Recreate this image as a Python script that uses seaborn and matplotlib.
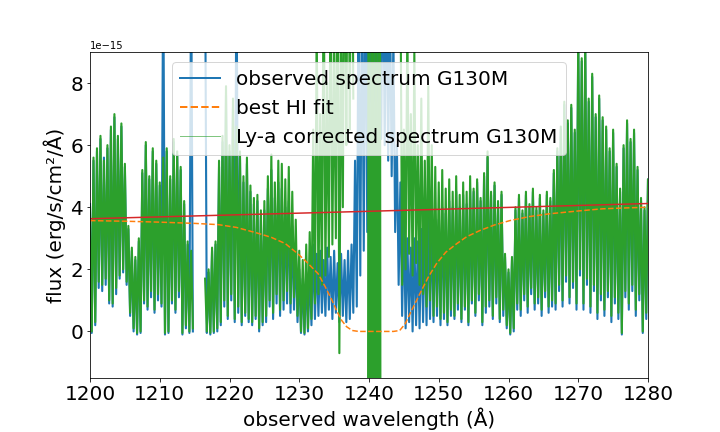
import numpy as np
import pandas as pd
import matplotlib
matplotlib.use("Agg")
import matplotlib.pyplot as plt
from matplotlib.lines import Line2D
import seaborn as sns

nan = np.nan
# wavelength grid of envelope samples (Angstrom), every 0.5 A from 1200 to 1280
grid_start, grid_step, n_grid = 1200.0, 0.5, 161

# Ly-a corrected spectrum G130M: upper / lower envelope (units of 1e-15)
green_hi = [
    4.0, 5.6, 5.9, 6.3, 5.5, 6.0, 6.6, 7.0, 6.3, 6.7,
    5.4, 3.4, 2.7, 2.4, 3.0, 5.2, 6.1, 5.0, 5.9, 5.5,
    4.8, 5.6, 5.9, 5.0, 6.2, 5.8, 5.3, 4.2, 2.9, 2.6,
    nan, nan, nan, 1.7, 2.0, 2.7, 2.9, 5.5, 6.3, 7.9,
    6.0, 7.5, 6.6, 5.8, 5.0, 5.6, 4.7, 4.3, 4.4, 3.9,
    4.2, 5.0, 5.7, 4.8, 5.5, 5.4, 4.9, 5.3, 4.5, 3.6,
    2.6, 2.3, 2.8, 3.2, 6.5, 10.0, 7.0, 12.0, 8.0, 12.0,
    9.0, 14.0, 10.0, 15.0, 16.0, 18.0, nan, nan, nan, nan,
    30.0, 30.0, 30.0, 30.0, nan, nan, nan, nan, nan, 12.0,
    6.5, 10.0, 7.0, 9.0, 6.0, 7.5, 5.5, 7.9, 6.0, 5.3,
    4.8, 5.2, 4.6, 4.9, 4.5, 5.0, 4.4, 4.8, 4.5, 5.0,
    4.6, 4.9, 4.3, 5.1, 5.8, 4.5, 4.8, 4.2, 4.5, 2.5,
    2.0, 2.4, 4.0, 4.4, 3.9, 4.5, 4.1, 4.6, 4.0, 4.4,
    3.9, 4.5, 4.3, 5.2, 5.9, 6.6, 7.4, 6.8, 7.3, 6.5,
    9.5, 8.8, 9.3, 7.5, 8.3, 7.0, 7.6, 6.9, 6.6, 5.9,
    6.5, 5.4, 4.6, 6.0, 6.8, 6.2, 6.5, 5.3, 4.3, 4.0,
    4.9,
]
green_lo = [
    0.0, 0.3, 1.6, 1.5, 1.7, 1.0, 0.9, 1.4, 1.8, 2.0,
    1.6, 0.6, 0.1, -0.05, 0.0, 1.0, 0.8, 1.3, 0.7, 1.2,
    0.9, -0.05, 0.0, 1.0, 0.7, 1.3, -0.05, 0.2, 0.0, 0.1,
    nan, nan, nan, 0.0, -0.05, 0.0, 0.1, 0.3, 1.0, 0.5,
    1.2, 0.4, 0.8, 0.3, 0.6, 0.4, 0.3, 0.5, 0.1, 0.3,
    0.5, 1.0, 0.6, 1.2, 0.7, 1.0, 1.3, 0.9, 1.1, 0.5,
    0.0, -0.05, 0.1, 0.4, 0.9, 1.2, 1.5, 1.8, 2.4, 2.8,
    3.0, -0.7, 4.0, 6.0, 6.5, 7.5, nan, nan, nan, -30.0,
    -30.0, -30.0, -30.0, -30.0, nan, nan, nan, nan, nan, 1.5,
    2.0, 2.5, 1.8, 2.2, 1.5, 1.2, 0.8, 1.0, 0.5, 0.8,
    0.4, 0.6, 0.3, 0.7, 0.5, 0.9, 0.4, 0.8, 0.3, 1.0,
    0.6, 1.2, 0.3, 0.8, 1.0, 0.5, 1.1, 0.4, 0.7, 0.2,
    -0.05, 0.1, 0.9, 0.7, 1.2, 0.8, 1.4, 0.9, 1.1, 0.7,
    1.3, 0.8, 1.0, 0.9, 1.5, 1.0, 1.8, 1.1, 1.6, 0.9,
    2.0, 0.9, 1.7, 0.8, 1.5, 0.6, 1.2, 0.7, 1.3, 0.5,
    1.1, 0.6, -0.05, 1.3, 0.9, 1.5, 0.7, 1.2, 0.0, 0.6,
    1.5,
]

# observed spectrum G130M: upper / lower envelope (units of 1e-15)
blue_hi = [
    4.1, 5.5, 5.8, 6.2, 5.6, 5.9, 6.5, 6.9, 6.2, 6.6,
    5.3, 3.3, 2.6, 2.3, 2.9, 5.1, 6.0, 4.9, 5.8, 5.4,
    4.7, 12.0, 5.8, 4.9, 6.1, 5.7, 5.2, 4.1, 2.8, 12.0,
    nan, nan, nan, 12.0, 1.9, 2.6, 2.8, 5.3, 6.1, 7.6,
    5.8, 7.2, 12.0, 5.6, 4.8, 5.4, 4.5, 4.1, 4.2, 3.7,
    3.9, 4.6, 5.2, 4.3, 4.8, 4.6, 4.0, 4.2, 3.4, 2.7,
    2.0, 1.7, 1.9, 2.0, 2.8, 2.5, 2.6, 2.3, 2.7, 2.4,
    2.6, 2.2, 2.5, 2.3, 2.6, 2.8, 5.5, 11.0, 12.0, 13.0,
    14.0, 15.0, 15.0, 14.0, 13.0, 12.0, 11.0, 9.5, 6.0, 4.8,
    3.6, 3.0, 2.7, 3.0, 2.9, 3.3, 3.2, 3.8, 3.6, 3.5,
    3.6, 4.0, 3.8, 4.2, 4.0, 4.5, 4.0, 4.4, 4.1, 4.6,
    4.5, 4.8, 4.2, 5.0, 5.6, 4.4, 4.7, 4.1, 4.4, 2.4,
    1.9, 2.3, 3.9, 4.3, 3.8, 4.4, 4.0, 4.5, 3.9, 4.3,
    3.8, 4.4, 4.2, 5.1, 5.8, 6.5, 7.3, 6.7, 7.2, 6.4,
    9.4, 8.7, 9.2, 7.4, 8.2, 6.9, 7.5, 6.8, 6.5, 5.8,
    6.4, 5.3, 4.5, 5.9, 6.7, 6.1, 6.4, 5.2, 4.2, 3.9,
    4.9,
]
blue_lo = [
    -0.05, 0.2, 1.4, 1.3, 1.5, 0.9, 0.8, 1.2, 1.7, 1.9,
    1.5, 0.5, 0.0, -0.1, -0.05, 0.9, 0.7, 1.1, 0.6, 1.0,
    0.8, -0.1, -0.05, 0.9, 0.6, 1.1, -0.1, 0.1, -0.05, 0.0,
    nan, nan, nan, -0.05, -0.1, -0.05, 0.0, 0.2, 0.8, 0.4,
    1.0, 0.3, 0.6, 0.2, 0.5, 0.3, 0.2, 0.4, 0.0, 0.2,
    0.3, 0.8, 0.4, 0.9, 0.5, 0.7, 0.9, 0.6, 0.7, 0.3,
    -0.05, -0.1, 0.0, 0.2, 0.4, 0.5, 0.6, 0.5, 0.7, 0.4,
    0.6, 0.3, 0.5, 0.3, 0.4, 0.6, 0.8, 1.8, 2.6, 3.2,
    4.0, 5.0, 6.0, 6.2, 6.0, 5.5, 5.0, 3.2, 1.5, 0.5,
    0.1, 0.3, 0.0, 0.2, 0.1, 0.3, 0.2, 0.4, 0.3, 0.5,
    0.2, 0.4, 0.2, 0.5, 0.4, 0.7, 0.3, 0.7, 0.2, 0.9,
    0.5, 1.0, 0.2, 0.6, 0.8, 0.4, 0.9, 0.3, 0.5, 0.1,
    -0.1, 0.0, 0.7, 0.5, 1.0, 0.6, 1.2, 0.7, 0.9, 0.5,
    1.1, 0.6, 0.8, 0.7, 1.3, 0.8, 1.6, 0.9, 1.4, 0.7,
    1.8, 0.7, 1.5, 0.6, 1.3, 0.4, 1.0, 0.5, 1.1, 0.3,
    0.9, 0.4, -0.1, 1.1, 0.7, 1.3, 0.5, 1.0, -0.05, 0.4,
    1.3,
]

# best HI fit (units of 1e-15)
fit_wave = [1200, 1205, 1210, 1215, 1218.4, 1221, 1224.1, 1226, 1228, 1229.8,
            1231, 1232.7, 1233.7, 1234.7, 1235.4, 1236.1, 1236.8, 1237.6, 1238.5,
            1243.5, 1244.4, 1245.2, 1245.9, 1247.3, 1248.5, 1249.7, 1251, 1252.6,
            1254, 1255.9, 1258, 1260.2, 1263, 1265.9, 1270, 1273.5, 1277, 1280]
fit_flux = [3.57, 3.55, 3.52, 3.48, 3.44, 3.35, 3.16, 3.03, 2.83, 2.50,
            2.25, 1.86, 1.45, 1.00, 0.65, 0.35, 0.15, 0.03, 0.0,
            0.0, 0.03, 0.25, 0.58, 1.22, 1.75, 2.19, 2.55, 2.83,
            3.05, 3.25, 3.43, 3.57, 3.70, 3.79, 3.88, 3.95, 3.98, 4.00]

# continuum (units of 1e-15)
cont_wave = [1200, 1240, 1280]
cont_flux = [3.63, 3.87, 4.12]

SCALE = 1e-15
FS = 20


def spectrum_frame(hi, lo):
    grid = grid_start + grid_step * np.arange(n_grid)
    wave = np.empty(2 * n_grid)
    flux = np.empty(2 * n_grid)
    wave[0::2] = grid
    wave[1::2] = grid + grid_step / 2
    flux[0::2] = hi
    flux[1::2] = lo
    seg = np.cumsum(np.isnan(flux))
    df = pd.DataFrame({"wave": wave, "flux": flux * SCALE, "seg": seg})
    return df.dropna()


fig = plt.figure(figsize=(10, 6), dpi=72)
ax = fig.add_axes([0.125, 0.125, 0.775, 0.7546])

c_blue, c_orange, c_green, c_red = "#1f77b4", "#ff7f0e", "#2ca02c", "#d62728"

sns.lineplot(data=spectrum_frame(blue_hi, blue_lo), x="wave", y="flux", units="seg",
             estimator=None, sort=False, color=c_blue, lw=2.1, ax=ax, legend=False)
sns.lineplot(data=spectrum_frame(green_hi, green_lo), x="wave", y="flux", units="seg",
             estimator=None, sort=False, color=c_green, lw=2.1, ax=ax, legend=False)
sns.lineplot(x=fit_wave, y=np.array(fit_flux) * SCALE, color=c_orange, lw=1.5,
             ls="--", ax=ax, sort=False)
sns.lineplot(x=cont_wave, y=np.array(cont_flux) * SCALE, color=c_red, lw=1.5,
             ax=ax, sort=False)

ax.set_xlim(1200, 1280)
ax.set_ylim(-1.5e-15, 9e-15)
ax.set_xticks([1200, 1210, 1220, 1230, 1240, 1250, 1260, 1270, 1280])
ax.set_yticks(np.array([0, 2, 4, 6, 8]) * SCALE)
ax.tick_params(labelsize=FS)
ax.set_xlabel("observed wavelength (Å)", fontsize=FS)
ax.set_ylabel("flux (erg/s/cm²/Å)", fontsize=FS)

handles = [
    Line2D([], [], color=c_blue, lw=2),
    Line2D([], [], color=c_orange, lw=2, ls="--"),
    Line2D([], [], color=c_green, lw=1.0, alpha=0.6),
]
labels = ["observed spectrum G130M", "best HI fit", "Ly-a corrected spectrum G130M"]
ax.legend(handles, labels, loc="upper center", fontsize=FS, framealpha=0.8)

fig.savefig("out.png", dpi=72)
